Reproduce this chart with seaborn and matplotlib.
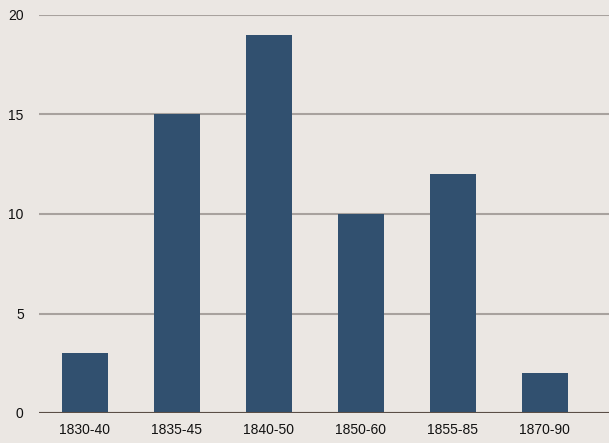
import matplotlib
matplotlib.use("Agg")
import matplotlib.pyplot as plt
import seaborn as sns
import pandas as pd

periods = ["1830-40", "1835-45", "1840-50", "1850-60", "1855-85", "1870-90"]
counts = [3, 15, 19, 10, 12, 2]
y_ticks = [0, 5, 10, 15, 20]

bg = "#ebe7e3"
bar_color = "#31506f"

sns.set_theme(style="white")
plt.rcParams["font.family"] = ["Liberation Sans", "DejaVu Sans"]

df = pd.DataFrame({"Period": periods, "Count": counts})

fig = plt.figure(figsize=(6.09, 4.43), dpi=100, facecolor=bg)
ax = fig.add_axes([39 / 609, 30 / 443, 1 - 39 / 609, 398 / 443])
ax.set_facecolor(bg)

sns.barplot(data=df, x="Period", y="Count", color=bar_color, width=0.5,
            saturation=1, linewidth=0, ax=ax, zorder=3)

ax.set_ylim(0, 20)
ax.set_xlim(-0.5, 5.7)
ax.set_yticks(y_ticks)
ax.yaxis.grid(True, color="#a8a29e", linewidth=1.5, zorder=0)
ax.axhline(0, color="#5a4e46", linewidth=1.5, zorder=4)
ax.set_axisbelow(True)

for s in ax.spines.values():
    s.set_visible(False)

ax.tick_params(axis="both", length=0, labelsize=10, colors="#111111")
ax.tick_params(axis="y", pad=11)
ax.tick_params(axis="x", pad=7)
ax.set_xlabel("")
ax.set_ylabel("")

fig.savefig("out.png", dpi=100, facecolor=bg)
